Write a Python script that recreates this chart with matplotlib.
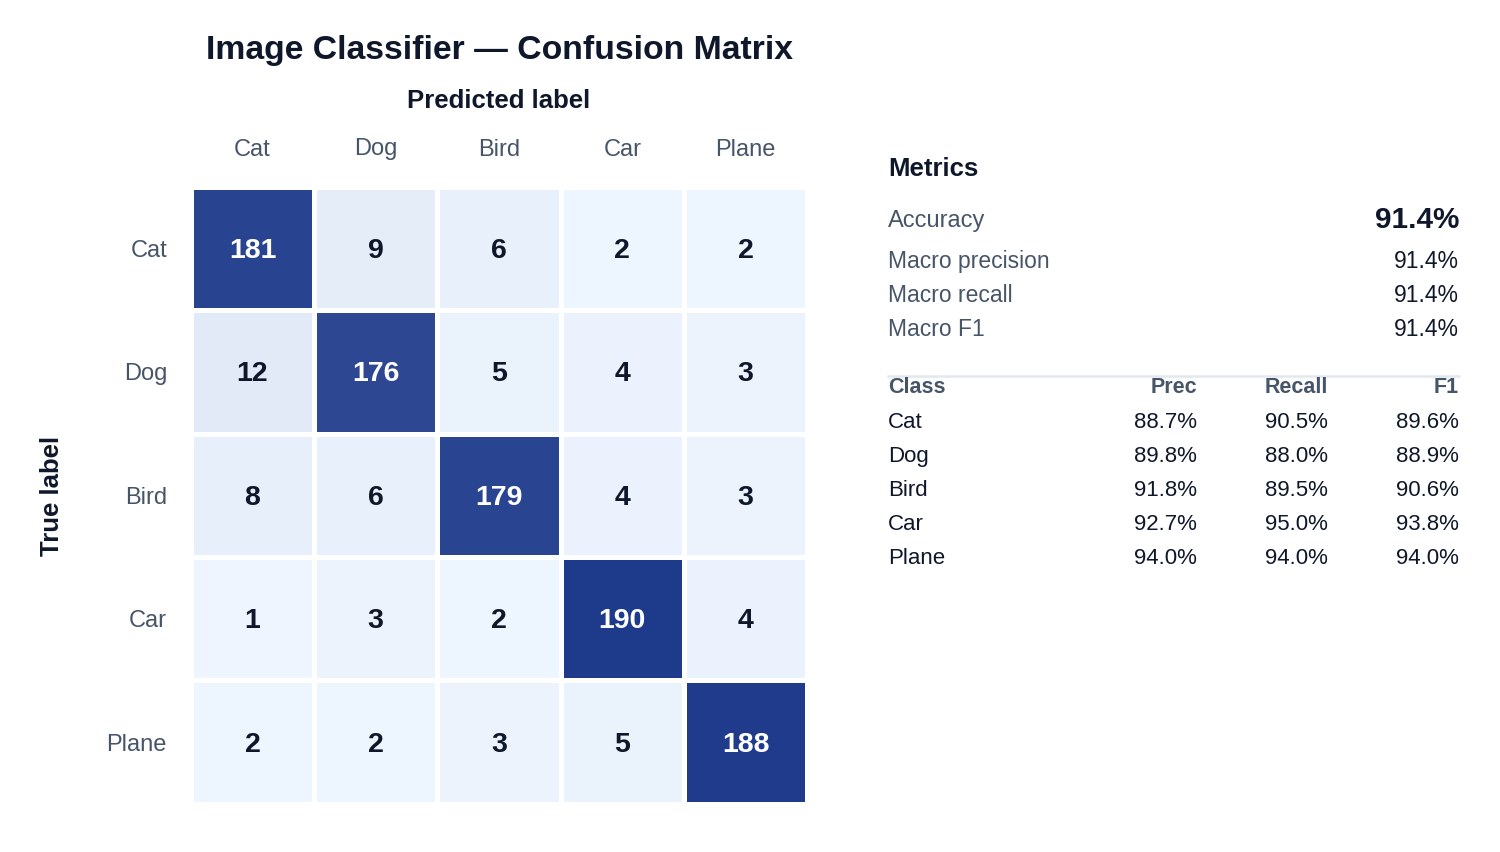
import numpy as np
import matplotlib
matplotlib.use("Agg")
import matplotlib.pyplot as plt
from matplotlib.colors import LinearSegmentedColormap
from matplotlib.lines import Line2D
from matplotlib import transforms

classes = ["Cat", "Dog", "Bird", "Car", "Plane"]
confusion = [
    [181, 9, 6, 2, 2],
    [12, 176, 5, 4, 3],
    [8, 6, 179, 4, 3],
    [1, 3, 2, 190, 4],
    [2, 2, 3, 5, 188],
]

plt.rcParams['font.family'] = ['Liberation Sans', 'DejaVu Sans']

W, H = 1500, 852
fig = plt.figure(figsize=(W / 100, H / 100), dpi=100)
fig.patch.set_facecolor("white")

DY = 2.5  # vertical text offset in px


def fx(x):
    return x / W


def fy(y):
    return 1 - (y + DY) / H


DARK = "#0f172a"
GRAY = "#475569"

cm = np.array(confusion)
n = len(classes)

# heatmap
ax = fig.add_axes([fx(190.8), 1 - 803.7 / H, (807.2 - 190.8) / W, (803.7 - 186.8) / H])
cmap = LinearSegmentedColormap.from_list("bl", ["#eff6ff", "#1e3a8a"])
ax.pcolormesh(np.arange(n + 1), np.arange(n + 1), cm, cmap=cmap, vmin=0, vmax=cm.max(),
              edgecolors="white", linewidth=2.3)
ax.set_xlim(0, n)
ax.set_ylim(n, 0)
for s in ax.spines.values():
    s.set_visible(False)
ax.set_xticks([])
ax.set_yticks([])
off = transforms.offset_copy(ax.transData, fig=fig, x=0, y=-DY, units="dots")
for i in range(n):
    for j in range(n):
        v = cm[i, j]
        ax.text(j + 0.5, i + 0.5, str(v), transform=off, ha="center", va="center", fontsize=20.5,
                fontweight="bold", color="white" if v > cm.max() * 0.5 else DARK)

tx = transforms.blended_transform_factory(ax.transData, fig.transFigure)
ty = transforms.offset_copy(transforms.blended_transform_factory(fig.transFigure, ax.transData),
                            fig=fig, x=0, y=-DY, units="dots")
for k, c in enumerate(classes):
    fig.text(k + 0.5, fy(147), c, transform=tx, ha="center", va="center", fontsize=17, color=GRAY)
    fig.text(fx(167), k + 0.5, c, transform=ty, ha="right", va="center", fontsize=17, color=GRAY)

fig.text(fx(499), fy(48), "Image Classifier \u2014 Confusion Matrix", ha="center", va="center",
         fontsize=24.3, fontweight="bold", color=DARK)
fig.text(fx(499), fy(99), "Predicted label", ha="center", va="center",
         fontsize=18.5, fontweight="bold", color=DARK)
fig.text(fx(52), 1 - 496 / H, "True label", ha="center", va="center", rotation=90,
         fontsize=18.5, fontweight="bold", color=DARK)

# metrics
tp = np.diag(cm)
prec = tp / cm.sum(axis=0)
rec = tp / cm.sum(axis=1)
f1 = 2 * prec * rec / (prec + rec)
acc = tp.sum() / cm.sum()

L, R = 888, 1459
fig.text(fx(L), fy(167), "Metrics", ha="left", va="center", fontsize=18.5, fontweight="bold", color=DARK)
fig.text(fx(L), fy(219), "Accuracy", ha="left", va="center", fontsize=17, color=GRAY)
fig.text(fx(R), fy(217), f"{acc*100:.1f}%", ha="right", va="center", fontsize=21.4,
         fontweight="bold", color=DARK)
macro = [("Macro precision", prec.mean()), ("Macro recall", rec.mean()), ("Macro F1", f1.mean())]
for k, (lab, val) in enumerate(macro):
    y = 259 + 34 * k
    fig.text(fx(L), fy(y), lab, ha="left", va="center", fontsize=16.5, color=GRAY)
    fig.text(fx(R), fy(y), f"{val*100:.1f}%", ha="right", va="center", fontsize=16.5, color=DARK)

fig.add_artist(Line2D([fx(L), fx(R)], [1 - 376 / H, 1 - 376 / H], color="#e2e8f0", linewidth=1.8,
                      transform=fig.transFigure))
cols = [1197, 1328, 1459]
fig.text(fx(L), fy(385), "Class", ha="left", va="center", fontsize=15.5, fontweight="bold", color=GRAY)
for x, h in zip(cols, ["Prec", "Recall", "F1"]):
    fig.text(fx(x), fy(385), h, ha="right", va="center", fontsize=15.5, fontweight="bold", color=GRAY)
for i, c in enumerate(classes):
    y = 420 + 34 * i
    fig.text(fx(L), fy(y), c, ha="left", va="center", fontsize=16, color=DARK)
    for x, v in zip(cols, [prec[i], rec[i], f1[i]]):
        fig.text(fx(x), fy(y), f"{v*100:.1f}%", ha="right", va="center", fontsize=16, color=DARK)

fig.savefig("out.png", dpi=100, facecolor="white")
